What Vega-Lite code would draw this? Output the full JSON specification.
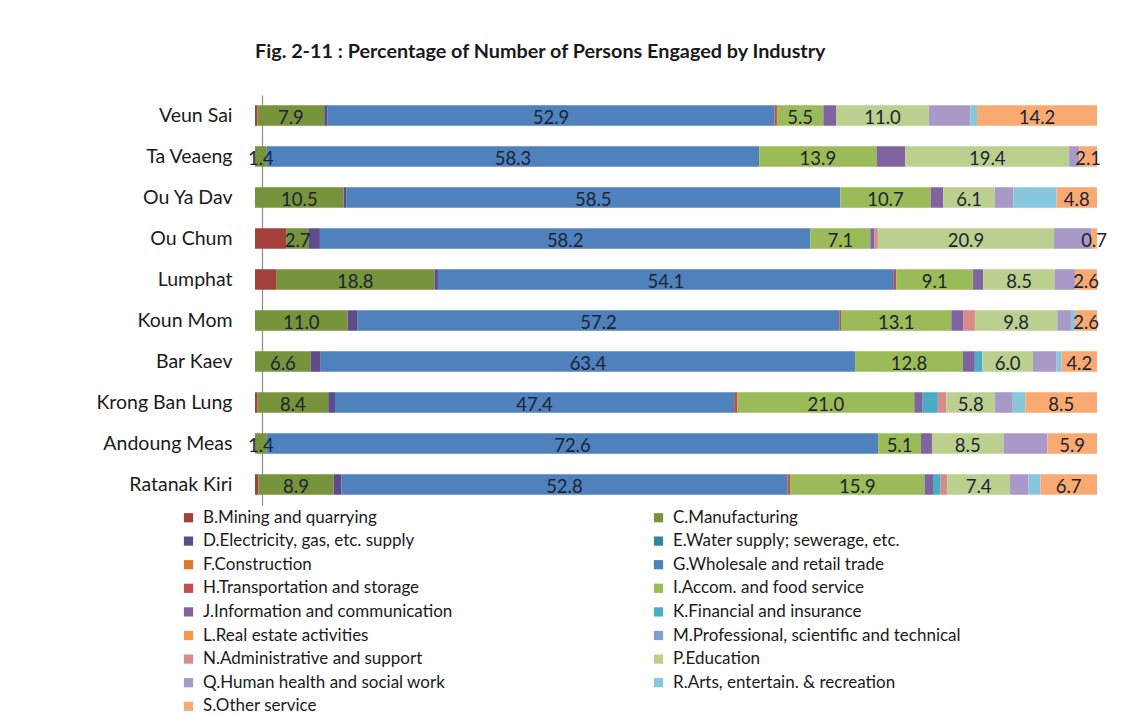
{
  "$schema": "https://vega.github.io/schema/vega-lite/v6.json",
  "width": 842,
  "height": 410,
  "autosize": {"type": "none"},
  "padding": {"left": 255, "top": 95, "right": 37, "bottom": 212},
  "background": "white",
  "title": {
    "text": "Fig. 2-11 : Percentage of Number of Persons Engaged by Industry",
    "anchor": "start",
    "frame": "group",
    "font": "Lato",
    "fontSize": 19.8,
    "fontWeight": "bold",
    "color": "#1a1a1a",
    "offset": 33
  },
  "data": {
    "values": [
      {"area": "Veun Sai", "industry": "B.Mining and quarrying", "value": 0.3},
      {"area": "Veun Sai", "industry": "C.Manufacturing", "value": 7.9},
      {"area": "Veun Sai", "industry": "D.Electricity, gas, etc. supply", "value": 0.4},
      {"area": "Veun Sai", "industry": "G.Wholesale and retail trade", "value": 52.9},
      {"area": "Veun Sai", "industry": "H.Transportation and storage", "value": 0.3},
      {"area": "Veun Sai", "industry": "I.Accom. and food service", "value": 5.5},
      {"area": "Veun Sai", "industry": "J.Information and communication", "value": 1.5},
      {"area": "Veun Sai", "industry": "P.Education", "value": 11.0},
      {"area": "Veun Sai", "industry": "Q.Human health and social work", "value": 4.9},
      {"area": "Veun Sai", "industry": "R.Arts, entertain. & recreation", "value": 0.8},
      {"area": "Veun Sai", "industry": "S.Other service", "value": 14.2},

      {"area": "Ta Veaeng", "industry": "C.Manufacturing", "value": 1.4},
      {"area": "Ta Veaeng", "industry": "G.Wholesale and retail trade", "value": 58.3},
      {"area": "Ta Veaeng", "industry": "I.Accom. and food service", "value": 13.9},
      {"area": "Ta Veaeng", "industry": "J.Information and communication", "value": 3.4},
      {"area": "Ta Veaeng", "industry": "P.Education", "value": 19.4},
      {"area": "Ta Veaeng", "industry": "Q.Human health and social work", "value": 1.2},
      {"area": "Ta Veaeng", "industry": "S.Other service", "value": 2.1},

      {"area": "Ou Ya Dav", "industry": "C.Manufacturing", "value": 10.5},
      {"area": "Ou Ya Dav", "industry": "D.Electricity, gas, etc. supply", "value": 0.3},
      {"area": "Ou Ya Dav", "industry": "G.Wholesale and retail trade", "value": 58.5},
      {"area": "Ou Ya Dav", "industry": "I.Accom. and food service", "value": 10.7},
      {"area": "Ou Ya Dav", "industry": "J.Information and communication", "value": 1.5},
      {"area": "Ou Ya Dav", "industry": "P.Education", "value": 6.1},
      {"area": "Ou Ya Dav", "industry": "Q.Human health and social work", "value": 2.2},
      {"area": "Ou Ya Dav", "industry": "R.Arts, entertain. & recreation", "value": 5.1},
      {"area": "Ou Ya Dav", "industry": "S.Other service", "value": 4.8},

      {"area": "Ou Chum", "industry": "B.Mining and quarrying", "value": 3.7},
      {"area": "Ou Chum", "industry": "C.Manufacturing", "value": 2.7},
      {"area": "Ou Chum", "industry": "D.Electricity, gas, etc. supply", "value": 1.3},
      {"area": "Ou Chum", "industry": "G.Wholesale and retail trade", "value": 58.2},
      {"area": "Ou Chum", "industry": "I.Accom. and food service", "value": 7.1},
      {"area": "Ou Chum", "industry": "J.Information and communication", "value": 0.5},
      {"area": "Ou Chum", "industry": "N.Administrative and support", "value": 0.4},
      {"area": "Ou Chum", "industry": "P.Education", "value": 20.9},
      {"area": "Ou Chum", "industry": "Q.Human health and social work", "value": 4.4},
      {"area": "Ou Chum", "industry": "S.Other service", "value": 0.7},

      {"area": "Lumphat", "industry": "B.Mining and quarrying", "value": 2.5},
      {"area": "Lumphat", "industry": "C.Manufacturing", "value": 18.8},
      {"area": "Lumphat", "industry": "D.Electricity, gas, etc. supply", "value": 0.4},
      {"area": "Lumphat", "industry": "G.Wholesale and retail trade", "value": 54.1},
      {"area": "Lumphat", "industry": "H.Transportation and storage", "value": 0.3},
      {"area": "Lumphat", "industry": "I.Accom. and food service", "value": 9.1},
      {"area": "Lumphat", "industry": "J.Information and communication", "value": 1.2},
      {"area": "Lumphat", "industry": "P.Education", "value": 8.5},
      {"area": "Lumphat", "industry": "Q.Human health and social work", "value": 2.4},
      {"area": "Lumphat", "industry": "S.Other service", "value": 2.6},

      {"area": "Koun Mom", "industry": "C.Manufacturing", "value": 11.0},
      {"area": "Koun Mom", "industry": "D.Electricity, gas, etc. supply", "value": 1.2},
      {"area": "Koun Mom", "industry": "G.Wholesale and retail trade", "value": 57.2},
      {"area": "Koun Mom", "industry": "H.Transportation and storage", "value": 0.2},
      {"area": "Koun Mom", "industry": "I.Accom. and food service", "value": 13.1},
      {"area": "Koun Mom", "industry": "J.Information and communication", "value": 1.4},
      {"area": "Koun Mom", "industry": "N.Administrative and support", "value": 1.4},
      {"area": "Koun Mom", "industry": "P.Education", "value": 9.8},
      {"area": "Koun Mom", "industry": "Q.Human health and social work", "value": 1.6},
      {"area": "Koun Mom", "industry": "R.Arts, entertain. & recreation", "value": 0.5},
      {"area": "Koun Mom", "industry": "S.Other service", "value": 2.6},

      {"area": "Bar Kaev", "industry": "C.Manufacturing", "value": 6.6},
      {"area": "Bar Kaev", "industry": "D.Electricity, gas, etc. supply", "value": 1.2},
      {"area": "Bar Kaev", "industry": "G.Wholesale and retail trade", "value": 63.4},
      {"area": "Bar Kaev", "industry": "I.Accom. and food service", "value": 12.8},
      {"area": "Bar Kaev", "industry": "J.Information and communication", "value": 1.4},
      {"area": "Bar Kaev", "industry": "K.Financial and insurance", "value": 0.9},
      {"area": "Bar Kaev", "industry": "P.Education", "value": 6.0},
      {"area": "Bar Kaev", "industry": "Q.Human health and social work", "value": 2.8},
      {"area": "Bar Kaev", "industry": "R.Arts, entertain. & recreation", "value": 0.6},
      {"area": "Bar Kaev", "industry": "S.Other service", "value": 4.2},

      {"area": "Krong Ban Lung", "industry": "B.Mining and quarrying", "value": 0.3},
      {"area": "Krong Ban Lung", "industry": "C.Manufacturing", "value": 8.4},
      {"area": "Krong Ban Lung", "industry": "D.Electricity, gas, etc. supply", "value": 0.8},
      {"area": "Krong Ban Lung", "industry": "G.Wholesale and retail trade", "value": 47.4},
      {"area": "Krong Ban Lung", "industry": "H.Transportation and storage", "value": 0.4},
      {"area": "Krong Ban Lung", "industry": "I.Accom. and food service", "value": 21.0},
      {"area": "Krong Ban Lung", "industry": "J.Information and communication", "value": 1.0},
      {"area": "Krong Ban Lung", "industry": "K.Financial and insurance", "value": 1.8},
      {"area": "Krong Ban Lung", "industry": "N.Administrative and support", "value": 1.0},
      {"area": "Krong Ban Lung", "industry": "P.Education", "value": 5.8},
      {"area": "Krong Ban Lung", "industry": "Q.Human health and social work", "value": 2.1},
      {"area": "Krong Ban Lung", "industry": "R.Arts, entertain. & recreation", "value": 1.5},
      {"area": "Krong Ban Lung", "industry": "S.Other service", "value": 8.5},

      {"area": "Andoung Meas", "industry": "C.Manufacturing", "value": 1.4},
      {"area": "Andoung Meas", "industry": "G.Wholesale and retail trade", "value": 72.6},
      {"area": "Andoung Meas", "industry": "I.Accom. and food service", "value": 5.1},
      {"area": "Andoung Meas", "industry": "J.Information and communication", "value": 1.3},
      {"area": "Andoung Meas", "industry": "P.Education", "value": 8.5},
      {"area": "Andoung Meas", "industry": "Q.Human health and social work", "value": 5.2},
      {"area": "Andoung Meas", "industry": "S.Other service", "value": 5.9},

      {"area": "Ratanak Kiri", "industry": "B.Mining and quarrying", "value": 0.4},
      {"area": "Ratanak Kiri", "industry": "C.Manufacturing", "value": 8.9},
      {"area": "Ratanak Kiri", "industry": "D.Electricity, gas, etc. supply", "value": 0.9},
      {"area": "Ratanak Kiri", "industry": "G.Wholesale and retail trade", "value": 52.8},
      {"area": "Ratanak Kiri", "industry": "H.Transportation and storage", "value": 0.3},
      {"area": "Ratanak Kiri", "industry": "I.Accom. and food service", "value": 15.9},
      {"area": "Ratanak Kiri", "industry": "J.Information and communication", "value": 1.0},
      {"area": "Ratanak Kiri", "industry": "K.Financial and insurance", "value": 0.9},
      {"area": "Ratanak Kiri", "industry": "N.Administrative and support", "value": 0.8},
      {"area": "Ratanak Kiri", "industry": "P.Education", "value": 7.4},
      {"area": "Ratanak Kiri", "industry": "Q.Human health and social work", "value": 2.2},
      {"area": "Ratanak Kiri", "industry": "R.Arts, entertain. & recreation", "value": 1.4},
      {"area": "Ratanak Kiri", "industry": "S.Other service", "value": 6.7}
    ]
  },
  "encoding": {
    "y": {
      "field": "area",
      "type": "nominal",
      "sort": ["Veun Sai", "Ta Veaeng", "Ou Ya Dav", "Ou Chum", "Lumphat", "Koun Mom", "Bar Kaev", "Krong Ban Lung", "Andoung Meas", "Ratanak Kiri"],
      "scale": {"paddingInner": 0.5, "paddingOuter": 0.25},
      "axis": {
        "title": null,
        "ticks": false,
        "domain": true,
        "domainColor": "#8c8c8c",
        "domainWidth": 1.2,
        "offset": -7,
        "labelPadding": 30,
        "labelFont": "Lato",
        "labelFontSize": 19.5,
        "labelColor": "#1a1a1a"
      }
    },
    "x": {
      "field": "value",
      "type": "quantitative",
      "stack": "normalize",
      "scale": {"domain": [0, 1], "nice": false},
      "axis": null
    },
    "order": {"field": "industry", "sort": "ascending"}
  },
  "layer": [
    {
      "mark": {"type": "bar"},
      "encoding": {
        "color": {
          "field": "industry",
          "type": "nominal",
          "scale": {
            "domain": [
              "B.Mining and quarrying",
              "C.Manufacturing",
              "D.Electricity, gas, etc. supply",
              "E.Water supply; sewerage, etc.",
              "F.Construction",
              "G.Wholesale and retail trade",
              "H.Transportation and storage",
              "I.Accom. and food service",
              "J.Information and communication",
              "K.Financial and insurance",
              "L.Real estate activities",
              "M.Professional, scientific and technical",
              "N.Administrative and support",
              "P.Education",
              "Q.Human health and social work",
              "R.Arts, entertain. & recreation",
              "S.Other service"
            ],
            "range": ["#A3403C", "#77933C", "#5F4B8B", "#31859C", "#D97A2F", "#4F81BD", "#C0504D", "#9BBB59", "#8064A2", "#4BACC6", "#F79646", "#7F9FCF", "#D88C8A", "#BBD08F", "#A899C6", "#87C7DD", "#F9AA72"]
          },
          "legend": {
            "title": null,
            "orient": "none",
            "legendX": -75,
            "legendY": 414,
            "direction": "horizontal",
            "columns": 2,
            "columnPadding": 197,
            "rowPadding": 5.6,
            "symbolType": "square",
            "symbolSize": 85,
            "symbolStrokeWidth": 0,
            "labelFont": "Lato",
            "labelFontSize": 17,
            "labelColor": "#1a1a1a",
            "labelLimit": 450,
            "labelOffset": 6
          }
        }
      }
    },
    {
      "mark": {"type": "text", "font": "Lato", "fontSize": 18.5, "color": "#1c2433", "baseline": "middle", "dy": 2},
      "encoding": {
        "x": {"field": "value", "type": "quantitative", "stack": "normalize", "bandPosition": 0.5},
        "detail": {"field": "industry"},
        "text": {"field": "value", "type": "quantitative", "format": ".1f"},
        "opacity": {
          "condition": {"test": "indexof('CGIPS', substring(datum.industry, 0, 1)) >= 0", "value": 1},
          "value": 0
        }
      }
    }
  ],
  "config": {"view": {"stroke": null}}
}
